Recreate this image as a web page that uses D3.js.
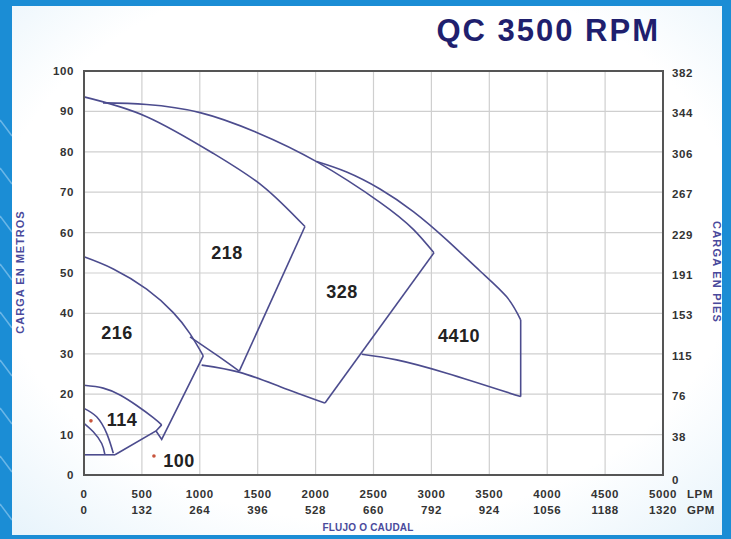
<!DOCTYPE html>
<html lang="en">
<head>
    <meta charset="UTF-8">
    <title>QC 3500 RPM</title>
    <style>
        body { margin: 0; background: #1b8dd5; }
        svg { display: block; font-family: "Liberation Sans", Arial, sans-serif; }
    </style>
</head>
<body>
    <svg width="731" height="539" id="svg"></svg>
    <script src="https://d3js.org/d3.v7.min.js"></script>
    <script>
        // axis ticks
        let lpm = [0, 500, 1000, 1500, 2000, 2500, 3000, 3500, 4000, 4500, 5000]
        let gpm = [0, 132, 264, 396, 528, 660, 792, 924, 1056, 1188, 1320]
        let metros = [0, 10, 20, 30, 40, 50, 60, 70, 80, 90, 100]
        let pies = [0, 38, 76, 115, 153, 191, 229, 267, 306, 344, 382]

        // curve outlines [LPM, metros]
        let c218Top = [[0, 93.6], [541, 88.7], [1117, 79.6], [1548, 71.4], [1908, 61.5]]
        let c218Right = [[1908, 61.5], [1341, 25.7]]
        let c218Bottom = [[915, 34.2], [1150, 29.6], [1341, 25.7]]
        let c328Top = [[164, 92.1], [541, 91.7], [1002, 89.7], [1491, 84.8], [2012, 77.5], [2556, 67.5], [2844, 60.8], [3022, 55]]
        let c328Right = [[3022, 55], [2081, 17.8]]
        let c328Bottom = [[1016, 27.2], [1347, 25.4], [1700, 21.8], [2081, 17.8]]
        let c4410Top = [[2009, 77.6], [2268, 75.0], [2556, 70.8], [2844, 65.2], [3132, 58.2], [3420, 50.5], [3650, 44.1], [3771, 38.4]]
        let c4410Right = [[3771, 38.4], [3771, 19.4]]
        let c4410Bottom = [[2398, 29.9], [2700, 28.5], [3132, 25.2], [3771, 19.4]]
        let c216Top = [[0, 54], [253, 51.0], [541, 46.0], [771, 40.2], [915, 35.0], [1030, 29.5]]
        let c216Right = [[1030, 29.5], [671, 8.8], [622, 10.9]]
        let c114Top = [[0, 22.2], [166, 21.5], [311, 19.8], [455, 17.2], [598, 14.2], [671, 12.4]]
        let c114Right = [[671, 12.4], [622, 10.9], [268, 5]]
        let c114Base = [[0, 5], [268, 5]]
        let c100Outer = [[0, 16.5], [109, 14.4], [196, 10.3], [253, 5.4]]
        let c100Inner = [[0, 12.8], [80, 10.7], [153, 7.8], [181, 5]]

        let curved = [c218Top, c328Top, c4410Top, c216Top, c114Top, c100Outer, c100Inner, c328Bottom, c4410Bottom, c218Bottom]
        let straight = [c218Right, c328Right, c4410Right, c216Right, c114Right, c114Base]

        let models = [{name: "216", q: 285, h: 35.1}, {name: "218", q: 1235, h: 55},
                      {name: "328", q: 2228, h: 45.3}, {name: "4410", q: 3238, h: 34.4},
                      {name: "114", q: 328, h: 13.6}, {name: "100", q: 820, h: 3.6}]
        let dots = [[60, 13.4], [604, 4.7]]

        var svg = d3.select("svg")

        // background panel
        var defs = svg.append("defs")
        var grad = defs.append("radialGradient").attr("id", "panel").attr("cx", "50%").attr("cy", "45%").attr("r", "75%")
        grad.append("stop").attr("offset", "70%").attr("stop-color", "#ffffff")
        grad.append("stop").attr("offset", "100%").attr("stop-color", "#e6f3fb")

        svg.append("rect").attr("width", 731).attr("height", 539).attr("fill", "#1b8dd5")
        // faint streaks on the blue border
        for (let i = 0; i < 9; i++) {
            svg.append("line")
                .attr("x1", 0).attr("y1", 120 + i * 48)
                .attr("x2", 12).attr("y2", 136 + i * 48)
                .attr("stroke", "#8cc8ef").attr("stroke-width", 1.5).attr("opacity", 0.7)
        }
        svg.append("rect").attr("x", 12).attr("y", 6).attr("width", 710).attr("height", 529)
            .attr("fill", "url(#panel)")

        var xScale = d3.scaleLinear().domain([0, 5000]).range([84, 663])
        var yScale = d3.scaleLinear().domain([0, 100]).range([475, 71])

        var g = svg.append("g")

        // grid
        g.selectAll(".vgrid").data(lpm).enter().append("line")
            .attr("x1", d => xScale(d)).attr("x2", d => xScale(d))
            .attr("y1", yScale(0)).attr("y2", yScale(100))
            .attr("stroke", "#cfcfcf").attr("stroke-width", 1.2)
        g.selectAll(".hgrid").data(metros).enter().append("line")
            .attr("x1", xScale(0)).attr("x2", xScale(5000))
            .attr("y1", d => yScale(d)).attr("y2", d => yScale(d))
            .attr("stroke", "#cfcfcf").attr("stroke-width", 1.2)

        // curves
        var lineC = d3.line().x(d => xScale(d[0])).y(d => yScale(d[1])).curve(d3.curveNatural)
        var lineS = d3.line().x(d => xScale(d[0])).y(d => yScale(d[1]))
        g.selectAll(".curve").data(curved).enter().append("path")
            .attr("d", lineC).attr("fill", "none").attr("stroke", "#4c4c8e").attr("stroke-width", 1.6)
        g.selectAll(".edge").data(straight).enter().append("path")
            .attr("d", lineS).attr("fill", "none").attr("stroke", "#4c4c8e").attr("stroke-width", 1.6)

        // frame
        g.append("rect").attr("x", xScale(0)).attr("y", yScale(100))
            .attr("width", xScale(5000) - xScale(0)).attr("height", yScale(0) - yScale(100))
            .attr("fill", "none").attr("stroke", "#555").attr("stroke-width", 2)

        // model labels
        g.selectAll(".model").data(models).enter().append("text")
            .attr("x", d => xScale(d.q)).attr("y", d => yScale(d.h))
            .attr("dy", "0.35em").attr("text-anchor", "middle")
            .attr("font-size", 18).attr("font-weight", "bold").attr("fill", "#222")
            .attr("letter-spacing", 0.5)
            .text(d => d.name)
        g.selectAll(".dot").data(dots).enter().append("circle")
            .attr("cx", d => xScale(d[0])).attr("cy", d => yScale(d[1])).attr("r", 1.8)
            .attr("fill", "#c8553d")

        // tick labels
        var tick = { "font-size": 11.5, "font-weight": "bold", "fill": "#333" }
        function style(sel) { for (let k in tick) sel.attr(k, tick[k]); return sel.attr("letter-spacing", 0.6) }

        style(g.selectAll(".ly").data(metros).enter().append("text")
            .attr("x", 74).attr("y", d => yScale(d)).attr("dy", "0.35em")
            .attr("text-anchor", "end").text(d => d))
        style(g.selectAll(".ry").data(pies).enter().append("text")
            .attr("x", 672).attr("y", (d, i) => yScale(metros[i]) + (i == 0 ? 5 : 2)).attr("dy", "0.35em")
            .attr("text-anchor", "start").text(d => d))
        style(g.selectAll(".lx").data(lpm).enter().append("text")
            .attr("x", d => xScale(d)).attr("y", 498)
            .attr("text-anchor", "middle").text(d => d))
        style(g.selectAll(".gx").data(gpm).enter().append("text")
            .attr("x", (d, i) => xScale(lpm[i])).attr("y", 514)
            .attr("text-anchor", "middle").text(d => d))
        style(g.append("text").attr("x", 687).attr("y", 498).text("LPM"))
        style(g.append("text").attr("x", 687).attr("y", 514).text("GPM"))

        // axis titles
        var navy = "#4a4a9c"
        g.append("text").attr("transform", "translate(24,272) rotate(-90)")
            .attr("text-anchor", "middle").attr("font-size", 11).attr("font-weight", "bold")
            .attr("fill", navy).attr("letter-spacing", 1).text("CARGA EN METROS")
        g.append("text").attr("transform", "translate(713,272) rotate(90)")
            .attr("text-anchor", "middle").attr("font-size", 11).attr("font-weight", "bold")
            .attr("fill", navy).attr("letter-spacing", 1.2).text("CARGA EN PIES")
        g.append("text").attr("x", 368).attr("y", 531)
            .attr("text-anchor", "middle").attr("font-size", 10).attr("font-weight", "bold")
            .attr("fill", navy).attr("letter-spacing", 0.2).text("FLUJO O CAUDAL")

        // title
        svg.append("text").attr("x", 660).attr("y", 41).attr("text-anchor", "end")
            .attr("font-size", 31).attr("font-weight", "bold").attr("fill", "#1f1f6e")
            .attr("letter-spacing", 2).text("QC 3500 RPM")
    </script>
</body>
</html>
